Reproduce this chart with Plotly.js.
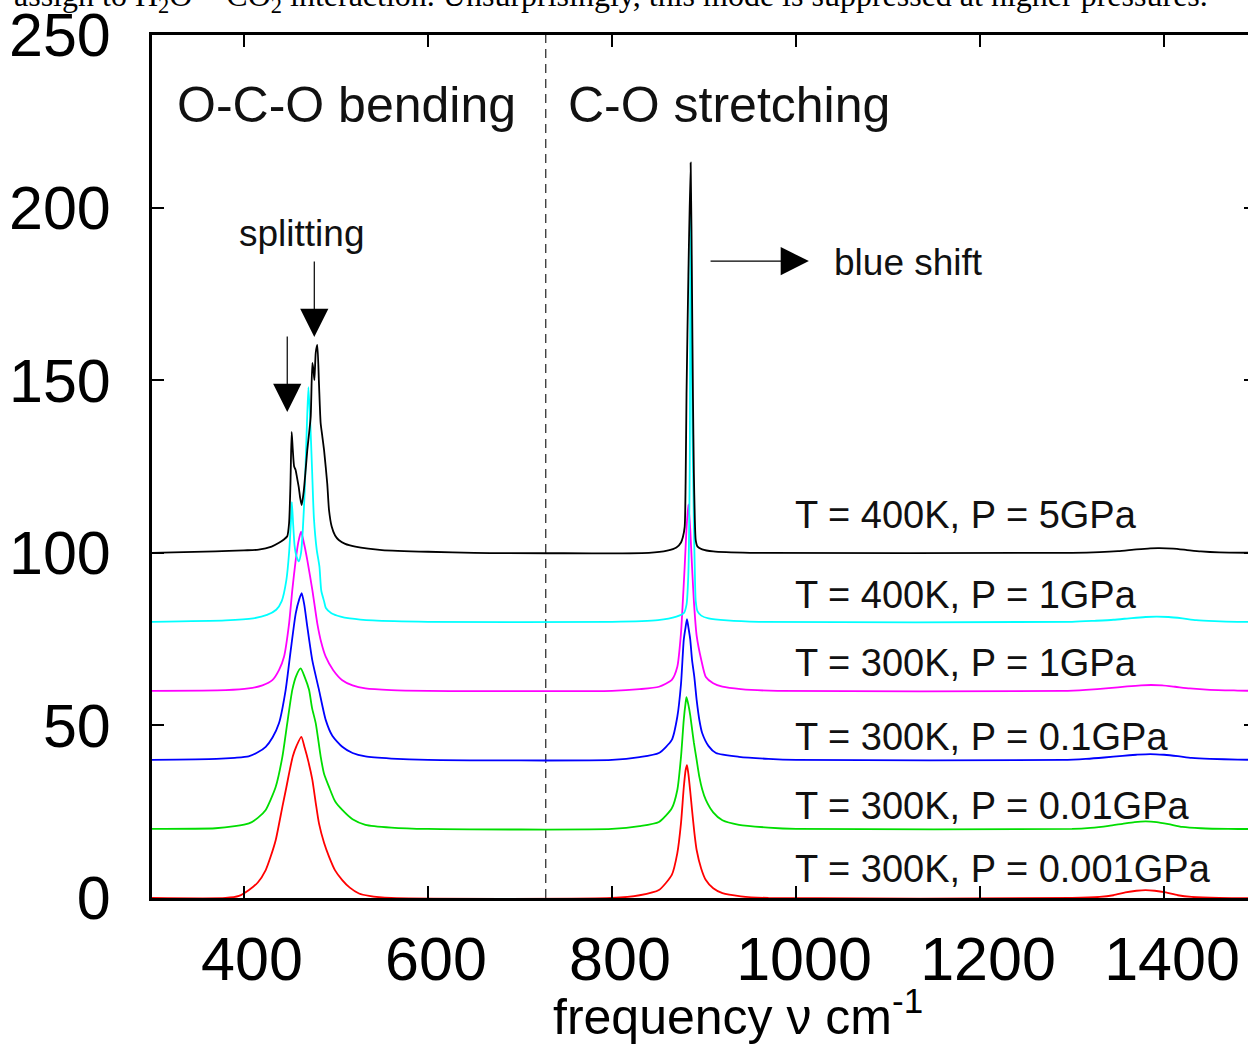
<!DOCTYPE html>
<html>
<head>
<meta charset="utf-8">
<script src="https://cdn.plot.ly/plotly-3.0.1.min.js"></script>
<style>
  html, body { margin: 0; padding: 0; overflow: hidden; background: #fff; }
  #chart { width: 1260px; height: 1045px; }
</style>
</head>
<body>
<div id="chart"></div>
<script>
// Vibrational spectra of CO2 in water at several (T, P) states, stacked by a constant offset.
// Frequencies in cm^-1, intensities in arbitrary units above each curve's own baseline.

const seriesLabels = [
  'T = 300K, P = 0.001GPa',
  'T = 300K, P = 0.01GPa',
  'T = 300K, P = 0.1GPa',
  'T = 300K, P = 1GPa',
  'T = 400K, P = 1GPa',
  'T = 400K, P = 5GPa'
];
const stackOffsets = [0, 20, 40, 60, 80, 100];
const lineColors = ['#ff0000', '#00dd00', '#0000ff', '#ff00ff', '#00ffff', '#000000'];

const freq300K_0001 = [300,380,394.6,405.4,415,423.6,429,434.5,441.7,446,449,453,457,462.3,466,470,474.3,478,481.5,487,492.4,499,506.8,515,525,536,560,
  800,830,851,865,871,875,878,880,881.5,883,885,887,889.5,892,897,902,910,920,940,970,
  1300,1330,1345,1358,1370,1380,1390,1402,1415,1430,1460,1500];
const int300K_0001 = [0,0,0.6,2.3,4.5,8.1,12,16.8,26.4,32,36.1,41,44,46.7,43.5,39.5,34.2,27.5,21.6,16,12,8,5.2,3,1.3,0.6,0,
  0,0.8,2.3,6.7,13,21.7,32,37,38.5,36,31,25.5,19,13.9,8.5,5.2,2.8,1.4,0.5,0,
  0,0.3,0.8,1.6,2.1,2.3,2.1,1.6,0.8,0.3,0,0];

const freq300K_001 = [300,369,390,405.4,415,423.6,429,434.5,441.7,447,452.5,457,461.6,466,470.7,474,478,483.4,487,492.4,499,506.8,518,532,560,600,
  800,830,851,865,871,875,878,880,881,883,885,887,889,892,895,898,902,910,920,938,970,1000,
  1300,1320,1340,1355,1368,1380,1392,1405,1420,1440,1470,1500];
const int300K_001 = [0,0.2,0.8,1.6,3.2,5.5,8.5,12.2,20.9,30.6,40.3,44.5,46.5,44,40.3,35,30.6,20.9,16,12.2,8,5.5,2.8,1.2,0.4,0,
  0,0.8,2,6,11.3,20.9,31.6,36.5,38.2,36,33,29,25,20,15,11.5,8.4,4.8,2.5,1.2,0.4,0,
  0,0.3,0.9,1.5,2,2.2,2,1.4,0.6,0.2,0,0];

const freq300K_01 = [300,370,390,405,415,423.6,431,438,445.3,450.8,456.2,460,462.7,465.5,468.8,474.2,481.5,488.8,496,506.8,518,532,560,600,
  800,830,851,865,871,875,878,880,881.5,883,885,887,889.5,892,895,898,905,913,938,970,1000,
  1290,1315,1335,1355,1370,1385,1400,1415,1430,1450,1480,1500];
const int300K_01 = [0,0.3,0.6,1,2.2,3.8,6.5,10.6,20.3,31.8,42.4,46.5,48.3,45,38.6,28.9,20.3,11.6,7,3.8,2,1,0.4,0,
  0,0.8,2,5.8,12.5,22,34.8,38.5,40.8,38.5,35,29,24,17.4,11.5,7.8,4,2,0.9,0.3,0,
  0,0.3,0.7,1.2,1.5,1.7,1.5,1.1,0.6,0.3,0.1,0];

const freq300K_1 = [300,380,405,420,430.8,438,443.5,449,452.5,456.2,459,462,465,468.8,474.3,479.7,484,488.8,497,506.8,518,532,560,600,
  800,830,851,865,871,875,877,879,881,883,885,887,889,892,897,902,910,920,940,980,
  1290,1315,1340,1360,1375,1386,1398,1412,1428,1450,1480,1500];
const int300K_1 = [0,0.2,0.7,1.6,3.1,6,9.9,19.5,29.2,37.9,43,46.1,43,37.9,29.2,19.5,14,9.9,6,3.1,1.6,0.7,0.2,0,
  0,0.5,1.2,3.2,7,16.8,26,36,47,54,47,36,26,16,9,4,2.2,1.2,0.5,0,
  0,0.3,0.8,1.3,1.6,1.7,1.6,1.2,0.7,0.3,0.1,0];

const freq400K_1 = [300,380,410,425,435,441,446,449,451,452,453.5,455,457,459.5,462,464,466,468,470,472,474,476,479,482,484,487,489,495,505,515,540,600,
  800,850,870,878,881,883,884.5,885.5,886.5,887.5,888.5,889,890,891,893,897,905,925,960,
  1300,1325,1345,1365,1380,1392,1405,1420,1435,1455,1480,1500];
const int400K_1 = [0,0.4,1,2,3.5,6,12,20,29,34.7,28,22,19,17.5,20,27,38,54,68,58,44,30,21,16,9,6,4,2.5,1.5,1,0.4,0,
  0,0.5,1.5,2.5,5,14,45,124,85,55,38,28,15,6,3,1.8,1,0.4,0,
  0,0.3,0.6,1.1,1.4,1.5,1.4,1,0.5,0.2,0,0];

const freq400K_5 = [300,369,400,416,430,438,443,447,449,450.5,451.8,453,454.5,456.1,457.5,459.5,461,462.7,465,467,468.8,470.5,472.5,474.3,475.5,476.5,478,479.7,481.5,483.3,485,487,490.5,492.4,495.3,499,503,510,521,535,550,600,650,
  840,860,870,875,877,879,880,881,883,885.5,887,888,889,890,891,893,898,910,950,
  1300,1330,1350,1370,1385,1395,1410,1425,1440,1460,1500];
const int400K_5 = [0,0.4,0.7,0.9,1.8,2.9,3.8,4.8,8.6,20,35,30,25,24,22,19,16,13.8,18,24,29.8,34,39.4,55,53,50,58,60.2,49,37.6,34,29.8,20,12.4,7.6,5,3.7,2.6,1.8,1.2,0.8,0.3,0,
  0,0.6,1.5,3,4.5,7.5,20,46,80,113,75,45,23,10,3.7,1.8,1,0.4,0,
  0,0.2,0.5,1,1.3,1.35,1.2,0.8,0.4,0.1,0];

const freqSets = [freq300K_0001, freq300K_001, freq300K_01, freq300K_1, freq400K_1, freq400K_5];
const intSets = [int300K_0001, int300K_001, int300K_01, int300K_1, int400K_1, int400K_5];

const xTicks = [400, 600, 800, 1000, 1200, 1400];
const yTicks = [0, 50, 100, 150, 200, 250];
const regionDivider = 728;

// Label placement along the right-hand side (data coordinates)
const labelX = 997;
const labelY = [8.4, 26.7, 46.6, 68.1, 87.8, 110.9];

const traces = freqSets.map((fx, i) => ({
  type: 'scatter',
  mode: 'lines',
  name: seriesLabels[i],
  x: fx,
  y: intSets[i].map(v => v + stackOffsets[i]),
  line: { color: lineColors[i], width: 1.8, shape: 'spline', smoothing: 0.6 },
  hoverinfo: 'skip'
}));

const sans = 'Liberation Sans, Arial, Helvetica, sans-serif';
const axisCommon = {
  ticks: 'inside',
  ticklen: 12,
  tickwidth: 2,
  tickcolor: '#000',
  showline: true,
  linewidth: 3,
  linecolor: '#000',
  mirror: 'ticks',
  showgrid: false,
  zeroline: false,
  tickfont: { family: sans, size: 61, color: '#000' }
};

// filled triangular heads, roughly 28 px across
const arrowStyle = { text: '', axref: 'x', ayref: 'y', showarrow: true,
  arrowhead: 2, arrowsize: 4.7, arrowwidth: 1.2, arrowcolor: '#000', standoff: 0 };

const annotations = [
  { text: 'O-C-O bending', x: 325, y: 229.7, xanchor: 'left', yanchor: 'middle', showarrow: false,
    font: { family: sans, size: 50, color: '#111' } },
  { text: 'C-O stretching', x: 750, y: 229.7, xanchor: 'left', yanchor: 'middle', showarrow: false,
    font: { family: sans, size: 50, color: '#111' } },
  { text: 'splitting', x: 392, y: 192.6, xanchor: 'left', yanchor: 'middle', showarrow: false,
    font: { family: sans, size: 37, color: '#111' } },
  { text: 'blue shift', x: 1039, y: 184.2, xanchor: 'left', yanchor: 'middle', showarrow: false,
    font: { family: sans, size: 37, color: '#111' } },
  Object.assign({ x: 1014, y: 184.5, ax: 905.5, ay: 184.5 }, arrowStyle),
  Object.assign({ x: 447, y: 140.8, ax: 447, ay: 163.1 }, arrowStyle),
  Object.assign({ x: 476.4, y: 162.5, ax: 476.4, ay: 184.8 }, arrowStyle),
  // x-axis caption
  { text: 'frequency ν cm<sup>-1</sup>', xref: 'paper', yref: 'paper', x: 0.531, y: -0.133,
    xanchor: 'center', yanchor: 'middle', showarrow: false,
    font: { family: sans, size: 50, color: '#000' } },
  // running text of the page above the figure
  { text: 'assign to H<sub>2</sub>O − CO<sub>2</sub> interaction. Unsurprisingly, this mode is suppressed at higher pressures.',
    xref: 'paper', yref: 'paper', x: -0.127, y: 1.0435, xanchor: 'left', yanchor: 'middle', showarrow: false,
    font: { family: 'Liberation Serif, Times New Roman, serif', size: 32, color: '#000' } }
];

seriesLabels.forEach((lab, i) => {
  annotations.push({
    text: lab, x: labelX, y: labelY[i], xanchor: 'left', yanchor: 'middle', showarrow: false,
    font: { family: sans, size: 38, color: '#111' }
  });
});

const layout = {
  width: 1260,
  height: 1045,
  margin: { l: 152, r: 4, t: 35, b: 147 },
  paper_bgcolor: '#fff',
  plot_bgcolor: '#fff',
  showlegend: false,
  xaxis: Object.assign({}, axisCommon, {
    range: [300, 1500],
    tickvals: xTicks,
    ticktext: xTicks.map(String),
    ticklabelstandoff: 6,
    ticklabelshift: 8
  }),
  yaxis: Object.assign({}, axisCommon, {
    range: [0, 250],
    tickvals: yTicks,
    ticktext: yTicks.map(String),
    ticklabelstandoff: 26
  }),
  shapes: [
    { type: 'line', xref: 'x', yref: 'paper', x0: regionDivider, x1: regionDivider, y0: 0, y1: 1,
      line: { color: '#222', width: 1.2, dash: '9px,6px' }, layer: 'below' }
  ],
  annotations: annotations
};

Plotly.newPlot('chart', traces, layout, { displayModeBar: false, staticPlot: true });
</script>
</body>
</html>
